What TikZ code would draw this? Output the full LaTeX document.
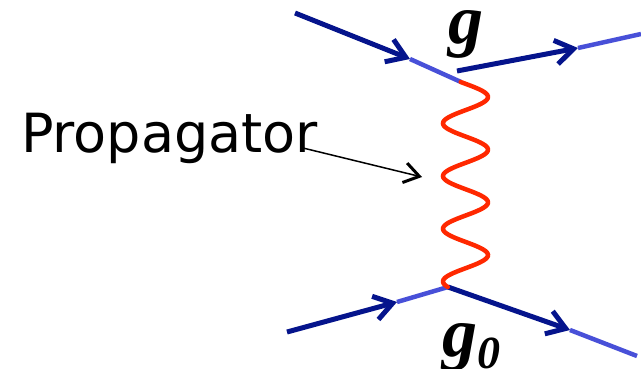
\documentclass[tikz,border=0pt]{standalone}
\usepackage{fontspec}
\setmainfont{Liberation Serif}
\newfontfamily\labelfont{DejaVu Sans}
\usetikzlibrary{arrows.meta}
\definecolor{fdark}{RGB}{5,20,140}
\definecolor{flight}{RGB}{72,80,216}
\definecolor{boson}{RGB}{255,40,0}
\begin{document}
\begin{tikzpicture}[x=1pt,y=-1pt,
  fdarkline/.style={draw=fdark,line width=5pt,
    -{Straight Barb[length=18pt,width=24pt,line width=5pt]}},
  flightline/.style={draw=flight,line width=4.5pt},
  bosonline/.style={draw=boson,line width=4.5pt,line cap=round},
  glabel/.style={font=\itshape\fontsize{70}{70}\selectfont,inner sep=0pt},
  pointer/.style={draw=black,line width=1.5pt,
    -{Straight Barb[length=15pt,width=20pt,line width=3pt]}}]
\useasboundingbox (0,0) rectangle (641,369);
% coordinates
\coordinate (tl1) at (295,13);
\coordinate (tlm) at (410,59);
\coordinate (vt) at (461,82);
\coordinate (tr1) at (457,71);
\coordinate (trm) at (578,48);
\coordinate (tr2) at (641,34);
\coordinate (bl1) at (287,332);
\coordinate (blm) at (397,302);
\coordinate (vb) at (448,287);
\coordinate (brm) at (570,330);
\coordinate (br2) at (637,356);
\coordinate (pstart) at (303,148);
\coordinate (ptip) at (422,177);
% fermion lines
\draw[flightline] (tlm) -- (vt);
\draw[fdarkline] (tl1) -- (tlm);
\draw[flightline] (trm) -- (tr2);
\draw[fdarkline] (tr1) -- (trm);
\draw[flightline] (blm) -- (vb);
\draw[fdarkline] (bl1) -- (blm);
\draw[flightline] (brm) -- (br2);
\draw[fdarkline] (vb) -- (brm);
% propagator
\draw[bosonline] plot[domain=82:287,samples=160,smooth]
  ({465.5+22.5*sin(6.8311*(\x-83.8))},\x);
% labels
\node[anchor=base west,inner sep=0pt,font=\labelfont\fontsize{54}{54}\selectfont] (prop) at (21,153) {Propagator};
\draw[pointer] (pstart) -- (ptip);
\node[glabel,anchor=base] (gt) at (466,44) {\textbf{g}};
\node[glabel,anchor=base] (gb) at (460,356) {\textbf{g}};
\node[font=\itshape\fontsize{46}{46}\selectfont,inner sep=0pt,anchor=base west] (gsub) at (477,368) {\textbf{0}};
\end{tikzpicture}
\end{document}
